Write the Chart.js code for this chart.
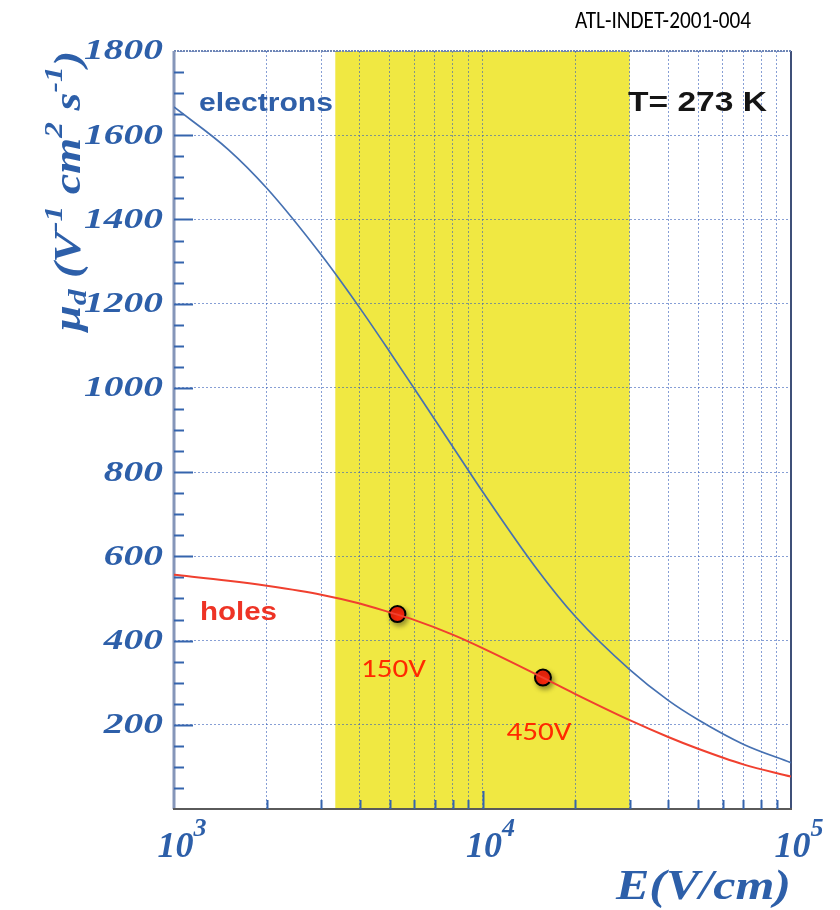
<!DOCTYPE html>
<html>
<head>
<meta charset="utf-8">
<script src="https://cdn.jsdelivr.net/npm/chart.js@4.4.1/dist/chart.umd.min.js"></script>
<style>
  body { margin: 0; background: #fff; }
  #wrap { width: 840px; height: 910px; }
</style>
</head>
<body>
<div id="wrap"><canvas id="mobility" width="840" height="910"></canvas></div>
<script>
// drift mobility of electrons and holes in silicon vs. electric field, T = 273 K
const fieldE      = [1000, 1500, 2000, 3000, 4000, 5000, 6000, 8000, 10000, 15000, 20000, 30000, 40000, 50000, 70000, 100000];
const electronMu  = [1667, 1566, 1474, 1316, 1190, 1086,  999,  861,   754,   570,   457,   331,   258,   212,   154,    110];
const holeMu      = [ 556,  542,  530,  509,  488,  467,  449,  414,   382,   319,   273,   211,   171,   143,   106,     77];

// operating points at two bias voltages
const biasE      = [5300, 15700];
const biasMu     = [463, 312];
const biasLabels = ['150V', '450V'];

// shaded field range
const bandE = [3333, 30000];

const yTickValues = [200, 400, 600, 800, 1000, 1200, 1400, 1600, 1800];
const xDecades    = [1000, 10000, 100000];
const xExponents  = ['3', '4', '5'];

// log grid lines 1..9 x 10^n
const xGridValues = [];
for (const d of [1000, 10000]) for (let k = 1; k < 10; k++) xGridValues.push(k * d);
xGridValues.push(100000);

const BLUE = '#2d5fa9';
const SERIF = 'italic bold %spx "Liberation Serif", "DejaVu Serif", serif';
const serif = s => SERIF.replace('%s', s);
const GRID = 'rgba(55, 95, 185, 0.6)';

// draws a run of text pieces [text, font, dy]; stretched to `width` if given, else by `scale`
function drawText(ctx, parts, x, y, opts) {
  opts = opts || {};
  ctx.save();
  let w = 0;
  for (const p of parts) { ctx.font = p[1]; w += ctx.measureText(p[0]).width; }
  const sx = opts.width ? opts.width / w : (opts.scale || 1);
  const total = w * sx;
  let x0 = x;
  if (opts.align === 'right') x0 = x - total;
  else if (opts.align === 'center') x0 = x - total / 2;
  ctx.translate(x0, y);
  ctx.scale(sx, 1);
  ctx.fillStyle = opts.color || BLUE;
  ctx.textBaseline = opts.baseline || 'alphabetic';
  let cx = 0;
  for (const p of parts) {
    ctx.font = p[1];
    ctx.fillText(p[0], cx, p[2] || 0);
    cx += ctx.measureText(p[0]).width;
  }
  ctx.restore();
}

const decorations = {
  id: 'decorations',
  beforeDraw(chart) {
    const { ctx, chartArea: a, scales: { x } } = chart;
    const x0 = x.getPixelForValue(bandE[0]);
    const x1 = x.getPixelForValue(bandE[1]);
    ctx.save();
    ctx.fillStyle = '#f0e842';
    ctx.fillRect(x0, a.top, x1 - x0, a.bottom - a.top);
    ctx.restore();
  },
  beforeDatasetsDraw(chart) {
    const { ctx, chartArea: a, scales: { x, y } } = chart;
    ctx.save();
    // frame
    ctx.lineWidth = 2;
    ctx.strokeStyle = '#3f5079';
    ctx.beginPath(); ctx.moveTo(a.right, a.top); ctx.lineTo(a.right, a.bottom); ctx.stroke();
    ctx.setLineDash([2, 1]);
    ctx.strokeStyle = '#6f86b5';
    ctx.beginPath(); ctx.moveTo(a.left, a.top); ctx.lineTo(a.right, a.top); ctx.stroke();
    ctx.setLineDash([]);
    ctx.lineWidth = 3;
    ctx.strokeStyle = '#8596b9';
    ctx.beginPath(); ctx.moveTo(a.left, a.top); ctx.lineTo(a.left, a.bottom); ctx.stroke();
    ctx.lineWidth = 2;
    ctx.strokeStyle = '#5a5a5a';
    ctx.beginPath(); ctx.moveTo(a.left - 1, a.bottom); ctx.lineTo(a.right + 1, a.bottom); ctx.stroke();

    // inward tick marks
    ctx.strokeStyle = '#3564ad';
    ctx.lineWidth = 2;
    for (let v = 50; v < 1800; v += 50) {
      const py = Math.round(y.getPixelForValue(v)) + 0.5;
      const len = v % 200 === 0 ? 19 : 10;
      ctx.beginPath(); ctx.moveTo(a.left, py); ctx.lineTo(a.left + len, py); ctx.stroke();
    }
    for (const v of xGridValues) {
      if (v === 1000 || v === 100000) continue;
      const px = Math.round(x.getPixelForValue(v)) + 0.5;
      const len = v === 10000 ? 18 : 9;
      ctx.beginPath(); ctx.moveTo(px, a.bottom); ctx.lineTo(px, a.bottom - len); ctx.stroke();
    }
    ctx.restore();
  },
  beforeDatasetDraw(chart, args) {
    if (args.index === 2) {
      const ctx = chart.ctx;
      ctx.save();
      ctx.shadowColor = 'rgba(0,0,0,0.35)';
      ctx.shadowBlur = 5;
      ctx.shadowOffsetX = 2;
      ctx.shadowOffsetY = 3;
    }
  },
  afterDatasetDraw(chart, args) {
    if (args.index === 2) chart.ctx.restore();
  },
  afterDraw(chart) {
    const { ctx, chartArea: a, scales: { x, y } } = chart;

    // y tick labels
    for (const v of yTickValues) {
      drawText(ctx, [[String(v), serif(29)]], 163, y.getPixelForValue(v) + 1,
        { scale: 1.36, align: 'right', baseline: 'middle' });
    }
    // x tick labels 10^n
    xDecades.forEach((v, i) => {
      drawText(ctx, [['10', serif(36)], [xExponents[i], serif(26), -21]],
        x.getPixelForValue(v) + 8, 857, { align: 'center' });
    });

    // axis titles
    drawText(ctx, [['E(V/cm)', serif(42)]], a.right, 899, { width: 175, align: 'right' });
    ctx.save();
    ctx.translate(80, 331);
    ctx.rotate(-Math.PI / 2);
    drawText(ctx, [
      ['\u03bc', serif(38)], ['d', serif(26), 6], [' (V', serif(38)], ['-1', serif(26), -18],
      [' cm', serif(38)], ['2', serif(26), -18], [' s', serif(38)], ['-1', serif(26), -18], [')', serif(38)]
    ], 0, 0, { width: 280 });
    ctx.restore();

    // curve labels and temperature
    drawText(ctx, [['electrons', 'bold 25px "Liberation Sans", Arial, sans-serif']], 199, 111,
      { width: 134, color: '#2f5fa8' });
    drawText(ctx, [['holes', 'bold 25px "Liberation Sans", Arial, sans-serif']], 200, 620,
      { width: 77, color: '#ee3325' });
    drawText(ctx, [['T= 273 K', 'bold 27px "Liberation Sans", Arial, sans-serif']], 628, 111,
      { width: 139, color: '#151515' });

    // bias labels under the operating points
    biasE.forEach((e, i) => {
      drawText(ctx, [[biasLabels[i], '26px Carlito, "Open Sans", sans-serif']],
        x.getPixelForValue(e) - 4, y.getPixelForValue(biasMu[i]) + 56,
        { width: 65, align: 'center', baseline: 'middle', color: '#ff2a00' });
    });

    // document reference
    drawText(ctx, [['ATL-INDET-2001-004', '25px Carlito, "Open Sans", sans-serif']], 575, 28,
      { width: 176, color: '#000' });
  }
};

new Chart(document.getElementById('mobility'), {
  type: 'line',
  data: {
    datasets: [
      {
        label: 'electrons',
        data: fieldE.map((e, i) => ({ x: e, y: electronMu[i] })),
        borderColor: '#4671b2',
        borderWidth: 1.7,
        pointRadius: 0,
        cubicInterpolationMode: 'monotone'
      },
      {
        label: 'holes',
        data: fieldE.map((e, i) => ({ x: e, y: holeMu[i] })),
        borderColor: '#f0402f',
        borderWidth: 2,
        pointRadius: 0,
        cubicInterpolationMode: 'monotone'
      },
      {
        label: 'bias',
        data: biasE.map((e, i) => ({ x: e, y: biasMu[i] })),
        showLine: false,
        pointRadius: 8,
        pointBackgroundColor: '#f8270c',
        pointBorderColor: '#000',
        pointBorderWidth: 2
      }
    ]
  },
  options: {
    responsive: false,
    animation: false,
    layout: { padding: { left: 174, right: 49, top: 51, bottom: 101 } },
    plugins: { legend: { display: false }, tooltip: { enabled: false } },
    scales: {
      x: {
        type: 'logarithmic',
        min: 1000,
        max: 100000,
        afterBuildTicks: s => { s.ticks = xGridValues.map(v => ({ value: v })); },
        ticks: { display: false },
        grid: { color: GRID, lineWidth: 1, drawTicks: false },
        border: { display: false, dash: [2, 2] }
      },
      y: {
        type: 'linear',
        min: 0,
        max: 1800,
        afterBuildTicks: s => { s.ticks = [0].concat(yTickValues).map(v => ({ value: v })); },
        ticks: { display: false },
        grid: { color: GRID, lineWidth: 1, drawTicks: false },
        border: { display: false, dash: [2, 2] }
      }
    }
  },
  plugins: [decorations]
});
</script>
</body>
</html>
